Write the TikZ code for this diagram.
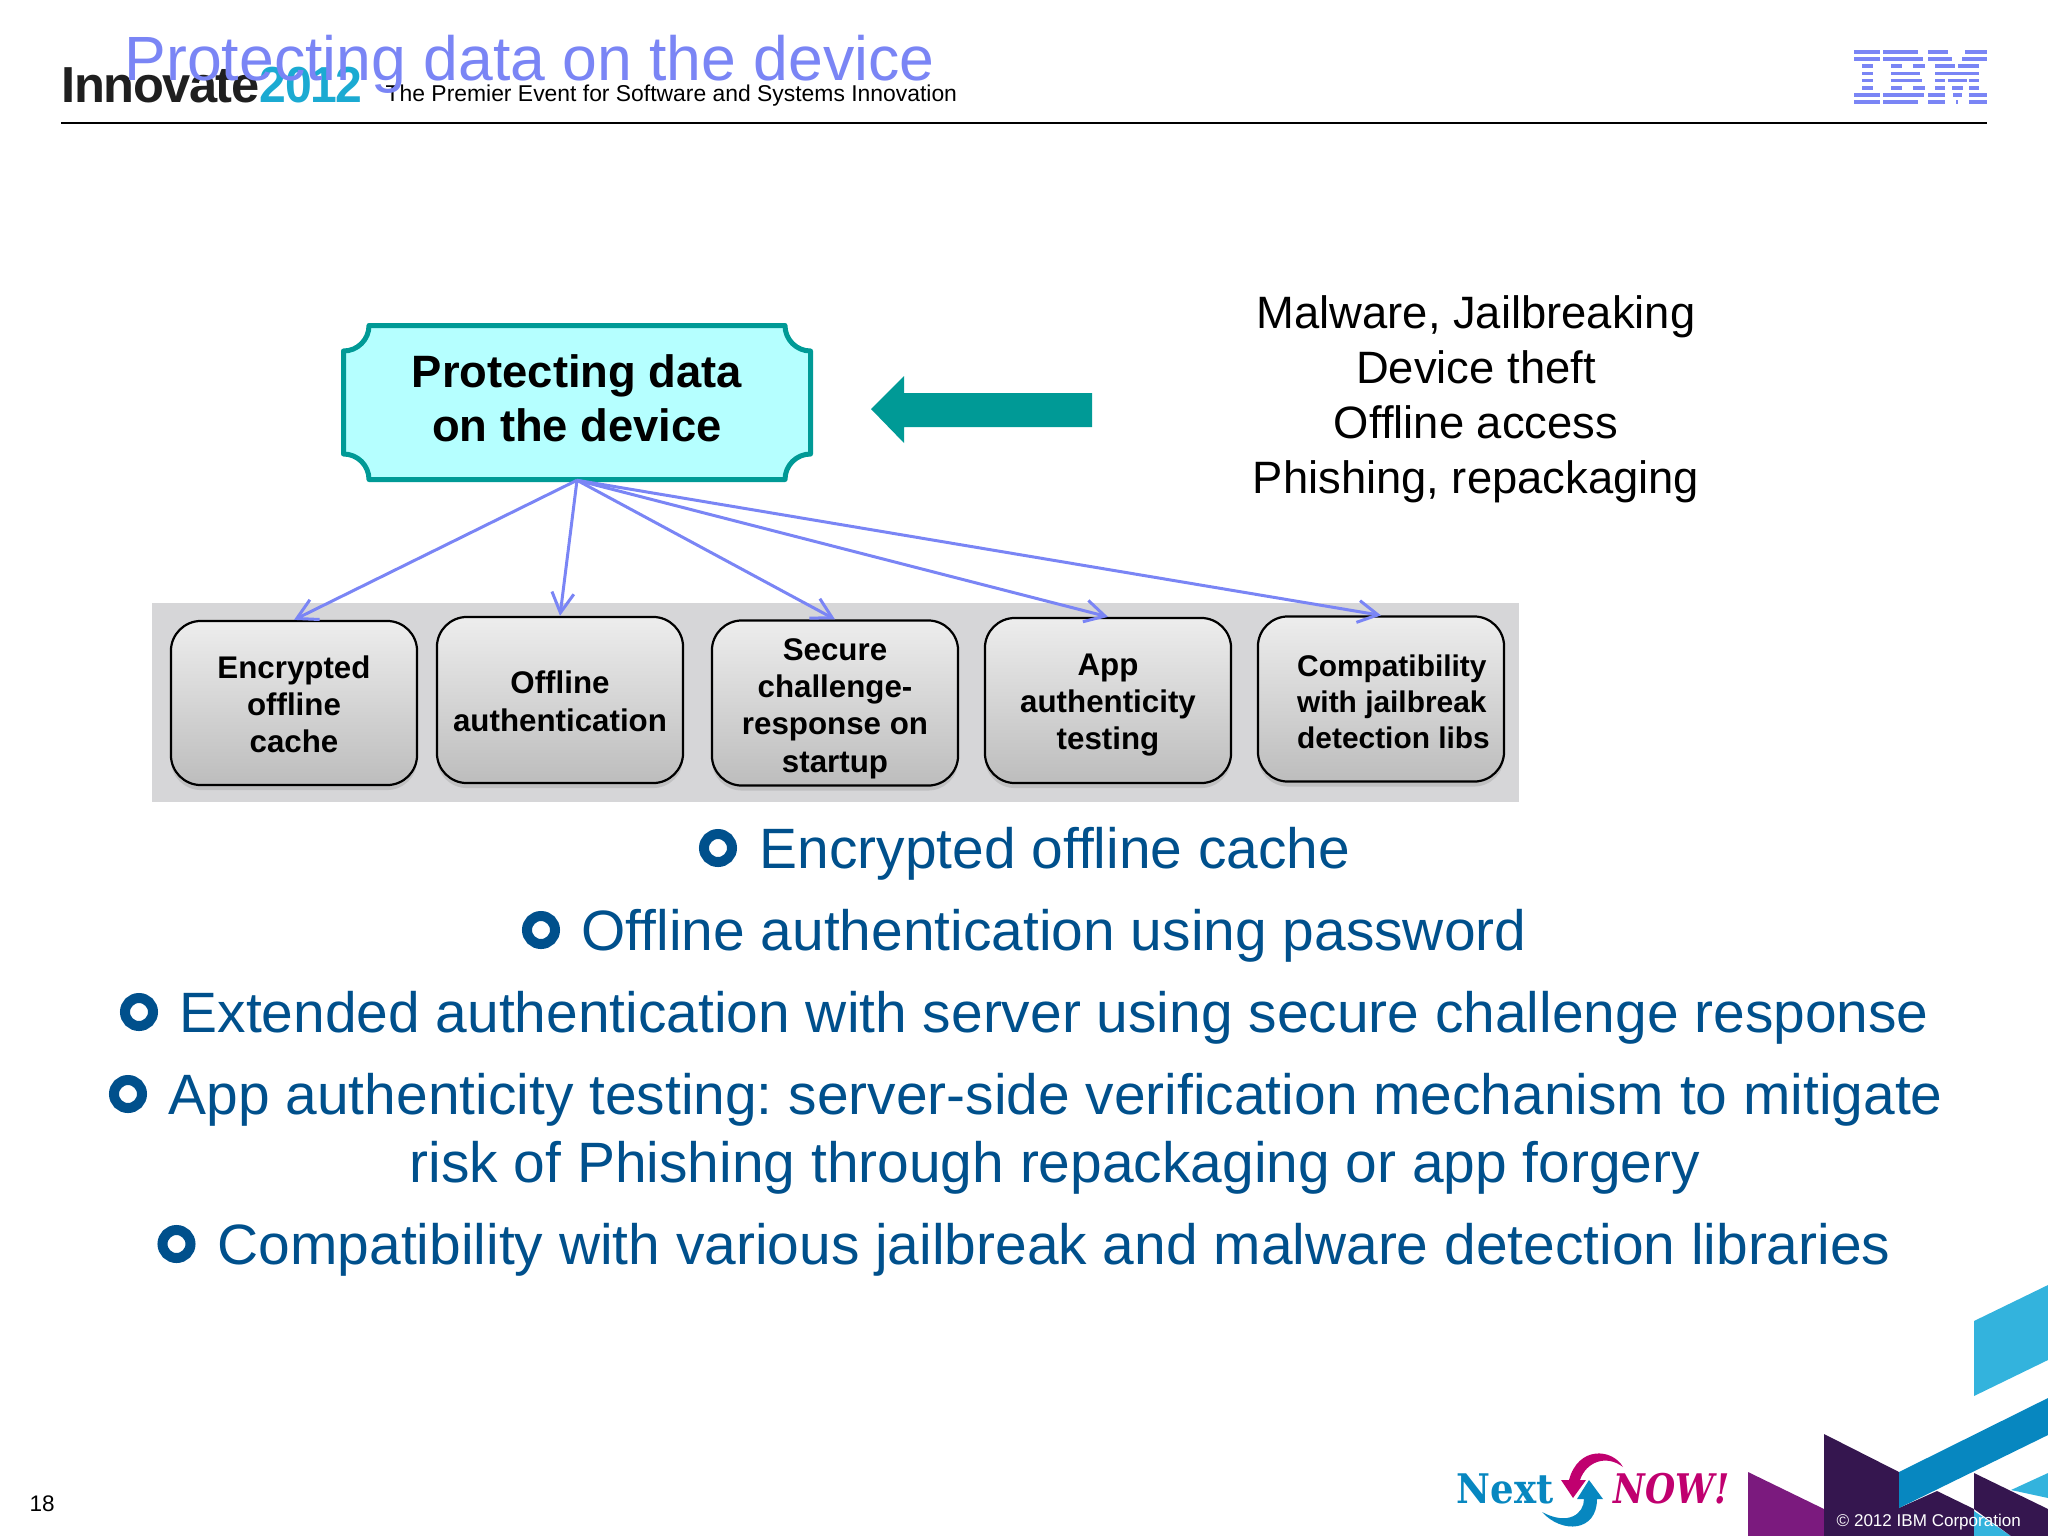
\documentclass[tikz,border=0pt]{standalone}
\usepackage{fontspec}
\setmainfont{Liberation Sans}
\newfontfamily\tightfont[LetterSpace=-3]{Liberation Sans}
\newfontfamily\slabfont{DejaVu Serif}
\usetikzlibrary{shapes,arrows.meta,shadows}

\definecolor{teal1}{HTML}{009A96}
\definecolor{aqua1}{HTML}{B5FFFF}
\definecolor{peri1}{HTML}{7A85F5}
\definecolor{navy1}{HTML}{00508C}
\definecolor{sky1}{HTML}{33B3DD}
\definecolor{year1}{HTML}{1BAAD2}
\definecolor{blue1}{HTML}{0787C0}
\definecolor{plum1}{HTML}{35164F}
\definecolor{purp1}{HTML}{7B1A7E}
\definecolor{rose1}{HTML}{C0006F}
\definecolor{band1}{HTML}{D6D6D8}

\newcommand{\fs}[2]{\fontsize{#1}{#2}\selectfont}
\newcommand{\pad}[1]{\rule{0pt}{#1}}

\tikzset{
  stepbox/.style={draw=black, line width=0.022cm, rounded corners=0.3cm, top color=black!7, bottom color=black!26,
    minimum width=2.46cm, align=center, font=\fs{8.9}{10.6}\bfseries, inner sep=0pt,
    drop shadow={shadow xshift=0pt, shadow yshift=-0.05cm, opacity=0.25}},
  bullettext/.style={anchor=base west, text=navy1, font=\fs{16.18}{19.35}\frenchspacing, inner sep=0pt},
  ringdot/.style={circle, draw=navy1, line width=0.1cm, minimum size=0.28cm, inner sep=0pt},
  feed/.style={peri1, line width=0.03cm, -{Straight Barb[length=0.2cm,width=0.22cm]}}
}

\begin{document}
\begin{tikzpicture}[x=0.01cm,y=-0.01cm]
  \useasboundingbox (0,0) rectangle (2048,1536);

  % header
  \node[anchor=base west, inner sep=0pt, font=\tightfont\fs{14.4}{16}\bfseries, text=black!88] (innovate) at (61,102) {Innovate};
  \node[anchor=base west, inner sep=0pt, font=\tightfont\fs{14.4}{16}\bfseries, text=year1] (year) at (259,102) {\scalebox{0.95}[1]{2012}};
  \node[anchor=base west, inner sep=0pt, font=\fs{6.51}{8}] (slogan) at (385,101) {The Premier Event for Software and Systems Innovation};
  \node[anchor=base west, inner sep=0pt, text=peri1, font=\fs{17.78}{20}] (title) at (124,80) {Protecting data on the device};
  \draw[line width=0.025cm] (61,123) -- (1987,123);

  % logo, one row of bars at a time
  \foreach \y/\bars in {
    50/{103/180,190/295,323/385,435/500},
    57.2/{103/180,190/310,323/395,425/500},
    64.4/{125/158,213/245,280/315,345/405,415/478},
    71.6/{125/158,213/300,345/478},
    78.8/{125/158,213/305,345/375,385/440,448/478},
    86/{125/158,213/245,280/315,345/375,395/430,448/478},
    93.2/{103/180,190/312,323/375,400/425,448/500},
    100.4/{103/180,190/295,323/375,408/415,448/500}}{
    \foreach \a/\b in \bars{
      \fill[peri1] ({1820+\a/3},\y) rectangle ({1820+\b/3},\y+3.6);
    }
  }

  % top box
  \draw[teal1, fill=aqua1, line width=0.05cm, line join=round]
    (369,325.5) -- (785,325.5) arc (180:90:25.5) -- (810.5,454) arc (270:180:25.5) -- (369,479.5) arc (0:-90:25.5)
    -- (343.5,351) arc (90:0:25.5) -- cycle;
  \node[minimum width=4.67cm, minimum height=1.62cm, inner sep=0pt, align=center, font=\fs{12.9}{15.4}\bfseries] (main) at (577,398.5)
    {Protecting data\\on the device};
  \fill[teal1] (871,409) -- (904,376) -- (904,393) -- (1092,393) -- (1092,427) -- (904,427) -- (904,443) -- cycle;
  \node[align=center, inner sep=0pt, font=\fs{12.9}{15.65}] (threats) at (1476,399)
    {Malware, Jailbreaking\\Device theft\\Offline access\\Phishing, repackaging};

  % boxes on the grey band
  \fill[band1] (152,603) rectangle (1519,802);
  \node[stepbox, minimum height=1.64cm] (cache) at (294,703) {\pad{0.25cm}Encrypted\\offline\\cache};
  \node[stepbox, minimum height=1.66cm] (auth) at (560,700) {\pad{0.25cm}Offline\\authentication};
  \node[stepbox, minimum height=1.65cm] (secure) at (835,703) {\pad{0.33cm}Secure\\challenge-\\response on\\startup};
  \node[stepbox, minimum height=1.65cm] (testing) at (1108,700.5) {\pad{0.31cm}App\\authenticity\\testing};
  \node[stepbox, minimum height=1.65cm, align=left, font=\fs{8.5}{10.2}\bfseries] (compat) at (1381,699)
    {\hspace*{0.25cm}\pad{0.27cm}Compatibility\\\hspace*{0.25cm}with jailbreak\\\hspace*{0.25cm}detection libs};

  \foreach \n in {cache,auth,secure,testing,compat}{
    \draw[feed] (main.south) -- (\n.north);
  }

  % bullets
  \node[ringdot] (r1) at (718,848) {};
  \node[bullettext] (t1) at (759,868) {Encrypted offline cache};
  \node[ringdot] (r2) at (541,930) {};
  \node[bullettext] (t2) at (581,950) {Offline authentication using password};
  \node[ringdot] (r3) at (139,1012) {};
  \node[bullettext] (t3) at (179,1032) {Extended authentication with server using secure challenge response};
  \node[ringdot] (r4) at (128,1094) {};
  \node[bullettext] (t4) at (168,1114) {App authenticity testing: server-side verification mechanism to mitigate};
  \node[bullettext] (t4b) at (409,1182) {risk of Phishing through repackaging or app forgery};
  \node[ringdot] (r5) at (176.5,1244) {};
  \node[bullettext] (t5) at (217,1264) {Compatibility with various jailbreak and malware detection libraries};

  % footer
  \node[anchor=base west, inner sep=0pt, font=\fs{6.4}{8}] (page) at (29,1511) {18};
  \node[anchor=base west, inner sep=0pt, font=\slabfont\fs{11.6}{14}\bfseries, text=blue1] (next) at (1456,1503) {\scalebox{0.91}[1]{Next}};
  \node[anchor=base west, inner sep=0pt, font=\slabfont\fs{11.6}{14}\bfseries\itshape, text=rose1] (now) at (1613,1503) {\scalebox{0.85}[1]{NOW!}};
  \fill[rose1] (1623,1467) .. controls (1612,1448) and (1578,1446) .. (1569,1480) -- (1561,1480) -- (1573,1498) -- (1586,1480) -- (1580,1480)
    .. controls (1586,1462) and (1606,1454) .. (1623,1467) -- cycle;
  \fill[blue1] (1589,1480) -- (1577,1499) -- (1584,1499) .. controls (1584,1514) and (1568,1526) .. (1542,1512)
    .. controls (1562,1534) and (1597,1532) .. (1597,1499) -- (1603,1499) -- cycle;

  \fill[sky1] (1974,1321) -- (2048,1285) -- (2048,1360) -- (1974,1396) -- cycle;
  \fill[purp1] (1748,1472) -- (1824,1509) -- (1824,1536) -- (1748,1536) -- cycle;
  \fill[plum1] (1824,1434) -- (1899,1472) -- (1899,1508) -- (1937,1491) -- (1974,1509) -- (1974,1536) -- (1824,1536) -- cycle;
  \fill[blue1] (1899,1472) -- (2048,1398) -- (2048,1435) -- (1899,1508) -- cycle;
  \fill[sky1] (1974,1511) -- (2011,1536) -- (1974,1536) -- cycle;
  \fill[plum1] (1974,1473) -- (2048,1509) -- (2048,1536) -- (2011,1536) -- (1974,1509) -- cycle;
  \fill[sky1] (2011,1490) -- (2048,1473) -- (2048,1498) -- cycle;
  \node[anchor=base west, inner sep=0pt, text=white, font=\fs{4.85}{6}] (copy) at (1836,1526) {\textcopyright{} 2012 IBM Corporation};
\end{tikzpicture}
\end{document}
